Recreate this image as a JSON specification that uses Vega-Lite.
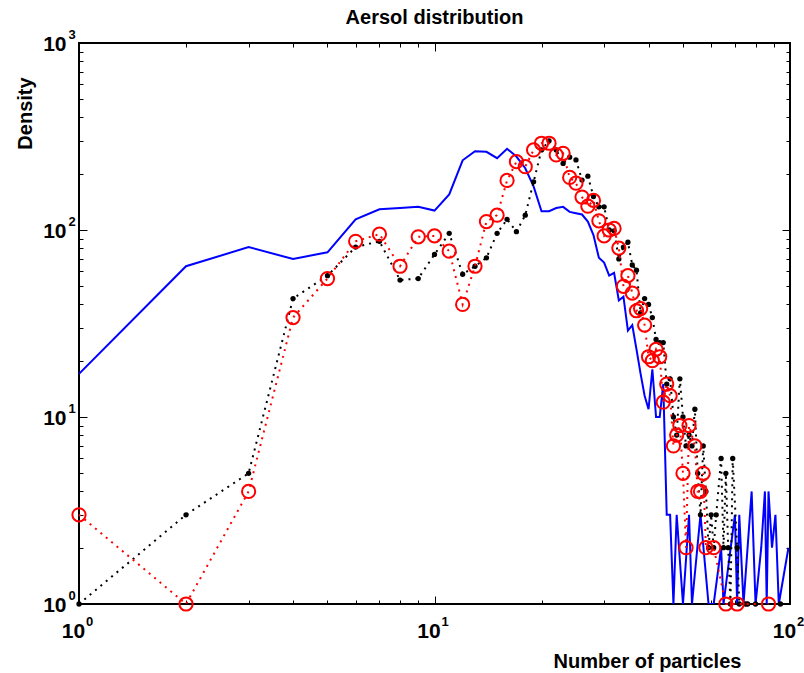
{
  "$schema": "https://vega.github.io/schema/vega-lite/v6.json",
  "width": 711,
  "height": 561,
  "autosize": "none",
  "padding": {"left": 79, "top": 43, "right": 14, "bottom": 69},
  "background": "white",
  "config": {
    "view": {"stroke": "black", "strokeWidth": 2},
    "font": "Liberation Sans",
    "axis": {"grid": false, "domain": false, "labelFlush": false, "labelOverlap": false, "labelBound": false, "tickColor": "black", "tickWidth": 1, "labelColor": "black", "titleColor": "black", "labelFont": "Liberation Sans", "titleFont": "Liberation Sans"}
  },
  "title": {"text": "Aersol distribution", "fontSize": 20, "fontWeight": "bold", "font": "Liberation Sans", "color": "black", "frame": "group", "anchor": "middle", "offset": 0},
  "datasets": {
    "all": [
      {"s":"b","n":1,"d":17},{"s":"b","n":2,"d":64},{"s":"b","n":3,"d":81},{"s":"b","n":4,"d":70},{"s":"b","n":5,"d":76},{"s":"b","n":6,"d":114},{"s":"b","n":7,"d":129},{"s":"b","n":8,"d":131},{"s":"b","n":9,"d":133},{"s":"b","n":10,"d":127},{"s":"b","n":11,"d":155},{"s":"b","n":12,"d":236},{"s":"b","n":13,"d":264},{"s":"b","n":14,"d":262},{"s":"b","n":15,"d":242},{"s":"b","n":16,"d":272},{"s":"b","n":17,"d":247},{"s":"b","n":18,"d":214},{"s":"b","n":19,"d":171},{"s":"b","n":20,"d":126},{"s":"b","n":21,"d":126},{"s":"b","n":22,"d":131},{"s":"b","n":23,"d":133},{"s":"b","n":24,"d":125},{"s":"b","n":25,"d":123},{"s":"b","n":26,"d":121},{"s":"b","n":27,"d":111},{"s":"b","n":28,"d":94},{"s":"b","n":29,"d":71},{"s":"b","n":30,"d":67},{"s":"b","n":31,"d":57},{"s":"b","n":32,"d":59},{"s":"b","n":33,"d":42},{"s":"b","n":34,"d":44},{"s":"b","n":35,"d":29},{"s":"b","n":36,"d":31},{"s":"b","n":37,"d":23},{"s":"b","n":38,"d":17},{"s":"b","n":39,"d":13},{"s":"b","n":40,"d":11},{"s":"b","n":41,"d":18},{"s":"b","n":42,"d":10},{"s":"b","n":43,"d":10},{"s":"b","n":44,"d":15},{"s":"b","n":45,"d":3},{"s":"b","n":46,"d":3},{"s":"b","n":47,"d":1},{"s":"b","n":48,"d":3},{"s":"b","n":50,"d":1},{"s":"b","n":52,"d":3},{"s":"b","n":53,"d":1},{"s":"b","n":56,"d":3},{"s":"b","n":59,"d":1},{"s":"b","n":61,"d":1},{"s":"b","n":64,"d":2},{"s":"b","n":65,"d":1},{"s":"b","n":70,"d":3},{"s":"b","n":71,"d":1},{"s":"b","n":72,"d":3},{"s":"b","n":74,"d":1},{"s":"b","n":78,"d":4},{"s":"b","n":80,"d":1},{"s":"b","n":83,"d":2},{"s":"b","n":85,"d":4},{"s":"b","n":86,"d":1},{"s":"b","n":87,"d":4},{"s":"b","n":89,"d":2},{"s":"b","n":91,"d":3},{"s":"b","n":93,"d":1},{"s":"b","n":99,"d":2},
      {"s":"k","n":1,"d":1},{"s":"k","n":2,"d":3},{"s":"k","n":3,"d":5},{"s":"k","n":4,"d":43},{"s":"k","n":5,"d":57},{"s":"k","n":6,"d":81},{"s":"k","n":7,"d":87},{"s":"k","n":8,"d":54},{"s":"k","n":9,"d":55},{"s":"k","n":10,"d":74},{"s":"k","n":11,"d":96},{"s":"k","n":12,"d":58},{"s":"k","n":13,"d":64},{"s":"k","n":14,"d":71},{"s":"k","n":15,"d":96},{"s":"k","n":16,"d":114},{"s":"k","n":17,"d":98},{"s":"k","n":18,"d":120},{"s":"k","n":19,"d":181},{"s":"k","n":20,"d":268},{"s":"k","n":21,"d":300},{"s":"k","n":22,"d":268},{"s":"k","n":23,"d":227},{"s":"k","n":24,"d":245},{"s":"k","n":25,"d":237},{"s":"k","n":26,"d":185},{"s":"k","n":27,"d":194},{"s":"k","n":28,"d":151},{"s":"k","n":29,"d":133},{"s":"k","n":30,"d":133},{"s":"k","n":31,"d":100},{"s":"k","n":32,"d":99},{"s":"k","n":33,"d":70},{"s":"k","n":34,"d":81},{"s":"k","n":35,"d":86},{"s":"k","n":36,"d":65},{"s":"k","n":37,"d":61},{"s":"k","n":38,"d":36},{"s":"k","n":39,"d":43},{"s":"k","n":40,"d":40},{"s":"k","n":41,"d":34},{"s":"k","n":42,"d":26},{"s":"k","n":43,"d":25},{"s":"k","n":44,"d":25},{"s":"k","n":45,"d":15},{"s":"k","n":46,"d":16},{"s":"k","n":47,"d":10},{"s":"k","n":48,"d":8},{"s":"k","n":49,"d":16},{"s":"k","n":50,"d":10},{"s":"k","n":51,"d":7},{"s":"k","n":52,"d":8},{"s":"k","n":53,"d":7},{"s":"k","n":54,"d":11},{"s":"k","n":55,"d":5},{"s":"k","n":56,"d":3},{"s":"k","n":57,"d":7},{"s":"k","n":58,"d":4},{"s":"k","n":59,"d":2},{"s":"k","n":60,"d":3},{"s":"k","n":61,"d":2},{"s":"k","n":62,"d":3},{"s":"k","n":64,"d":6},{"s":"k","n":65,"d":2},{"s":"k","n":66,"d":5},{"s":"k","n":67,"d":2},{"s":"k","n":68,"d":1},{"s":"k","n":69,"d":6},{"s":"k","n":71,"d":2},{"s":"k","n":72,"d":1},{"s":"k","n":75,"d":1},{"s":"k","n":76,"d":1},{"s":"k","n":80,"d":1},{"s":"k","n":94,"d":1},
      {"s":"r","n":1,"d":3},{"s":"r","n":2,"d":1},{"s":"r","n":3,"d":4},{"s":"r","n":4,"d":34},{"s":"r","n":5,"d":55},{"s":"r","n":6,"d":87},{"s":"r","n":7,"d":95},{"s":"r","n":8,"d":64},{"s":"r","n":9,"d":92},{"s":"r","n":10,"d":93},{"s":"r","n":11,"d":77},{"s":"r","n":12,"d":40},{"s":"r","n":13,"d":64},{"s":"r","n":14,"d":111},{"s":"r","n":15,"d":120},{"s":"r","n":16,"d":184},{"s":"r","n":17,"d":232},{"s":"r","n":18,"d":218},{"s":"r","n":19,"d":268},{"s":"r","n":20,"d":291},{"s":"r","n":21,"d":291},{"s":"r","n":22,"d":252},{"s":"r","n":23,"d":257},{"s":"r","n":24,"d":191},{"s":"r","n":25,"d":178},{"s":"r","n":26,"d":150},{"s":"r","n":27,"d":134},{"s":"r","n":28,"d":144},{"s":"r","n":29,"d":112},{"s":"r","n":30,"d":93},{"s":"r","n":31,"d":100},{"s":"r","n":32,"d":102},{"s":"r","n":33,"d":80},{"s":"r","n":34,"d":50},{"s":"r","n":35,"d":57},{"s":"r","n":36,"d":46},{"s":"r","n":37,"d":37},{"s":"r","n":38,"d":38},{"s":"r","n":39,"d":31},{"s":"r","n":40,"d":21},{"s":"r","n":41,"d":20},{"s":"r","n":42,"d":23},{"s":"r","n":43,"d":21},{"s":"r","n":44,"d":12},{"s":"r","n":45,"d":15},{"s":"r","n":46,"d":13},{"s":"r","n":47,"d":7},{"s":"r","n":48,"d":8},{"s":"r","n":49,"d":9},{"s":"r","n":50,"d":5},{"s":"r","n":51,"d":2},{"s":"r","n":52,"d":9},{"s":"r","n":54,"d":7},{"s":"r","n":55,"d":4},{"s":"r","n":56,"d":4},{"s":"r","n":57,"d":5},{"s":"r","n":58,"d":2},{"s":"r","n":61,"d":2},{"s":"r","n":66,"d":1},{"s":"r","n":71,"d":1},{"s":"r","n":87,"d":1}
    ]
  },
  "data": {"name": "all"},
  "layer": [
    {
      "transform": [{"filter": "datum.s == 'b'"}],
      "mark": {"type": "line", "color": "#0000ff", "strokeWidth": 2, "clip": true},
      "encoding": {
        "x": {"field": "n", "type": "quantitative", "scale": {"type": "log", "domain": [1, 100], "nice": false},
          "axis": {"orient": "bottom", "values": [1, 10, 100], "tickSize": -8, "labelExpr": "'10'", "labelFontSize": 21, "labelFontWeight": "bold", "labelPadding": 24, "labelBaseline": "top", "labelOffset": -6,
            "title": "Number of particles", "titleFontSize": 20, "titleFontWeight": "bold", "titleX": 568, "titleY": 57, "titleBaseline": "middle", "titleAlign": "center"}},
        "y": {"field": "d", "type": "quantitative", "scale": {"type": "log", "domain": [1, 1000], "nice": false},
          "axis": {"orient": "left", "values": [1, 10, 100, 1000], "tickSize": -8, "labelExpr": "'10'", "labelFontSize": 21, "labelFontWeight": "bold", "labelPadding": 21, "labelBaseline": "middle", "labelOffset": 1,
            "title": "Density", "titleFontSize": 20, "titleFontWeight": "bold", "titleX": -54, "titleY": 70, "titleBaseline": "middle", "titleAlign": "center", "titleAngle": 270}}
      }
    },
    {
      "transform": [{"filter": "datum.s == 'k'"}],
      "mark": {"type": "line", "color": "black", "strokeWidth": 2, "strokeDash": [2, 5]},
      "encoding": {
        "x": {"field": "n", "type": "quantitative",
          "axis": {"orient": "bottom", "values": [1,2,3,4,5,6,7,8,9,10,20,30,40,50,60,70,80,90,100], "tickSize": -4, "labelExpr": "datum.value == 1 ? '0' : datum.value == 10 ? '1' : datum.value == 100 ? '2' : ''", "labelFontSize": 13, "labelFontWeight": "bold", "labelPadding": 21, "labelBaseline": "middle", "labelOffset": 10, "title": null}},
        "y": {"field": "d", "type": "quantitative",
          "axis": {"orient": "left", "values": [1,2,3,4,5,6,7,8,9,10,20,30,40,50,60,70,80,90,100,200,300,400,500,600,700,800,900,1000], "tickSize": -4, "labelExpr": "datum.value == 1 ? '0' : datum.value == 10 ? '1' : datum.value == 100 ? '2' : datum.value == 1000 ? '3' : ''", "labelFontSize": 13, "labelFontWeight": "bold", "labelPadding": 15, "labelAlign": "left", "labelBaseline": "middle", "labelOffset": -9, "title": null}}
      }
    },
    {
      "transform": [{"filter": "datum.s == 'k'"}],
      "mark": {"type": "circle", "color": "black", "size": 28, "opacity": 1},
      "encoding": {
        "x": {"field": "n", "type": "quantitative",
          "axis": {"orient": "top", "values": [1, 10, 100], "tickSize": -8, "labels": false, "title": null}},
        "y": {"field": "d", "type": "quantitative",
          "axis": {"orient": "right", "values": [1, 10, 100, 1000], "tickSize": -8, "labels": false, "title": null}}
      }
    },
    {
      "transform": [{"filter": "datum.s == 'r'"}],
      "mark": {"type": "line", "color": "#ff0000", "strokeWidth": 2, "strokeDash": [2, 5]},
      "encoding": {
        "x": {"field": "n", "type": "quantitative",
          "axis": {"orient": "top", "values": [1,2,3,4,5,6,7,8,9,10,20,30,40,50,60,70,80,90,100], "tickSize": -4, "labels": false, "title": null}},
        "y": {"field": "d", "type": "quantitative",
          "axis": {"orient": "right", "values": [1,2,3,4,5,6,7,8,9,10,20,30,40,50,60,70,80,90,100,200,300,400,500,600,700,800,900,1000], "tickSize": -4, "labels": false, "title": null}}
      }
    },
    {
      "transform": [{"filter": "datum.s == 'r'"}],
      "mark": {"type": "point", "shape": "circle", "color": "#ff0000", "filled": false, "size": 175, "strokeWidth": 2, "opacity": 1},
      "encoding": {
        "x": {"field": "n", "type": "quantitative", "axis": null},
        "y": {"field": "d", "type": "quantitative", "axis": null}
      }
    }
  ],
  "resolve": {"axis": {"x": "independent", "y": "independent"}}
}
